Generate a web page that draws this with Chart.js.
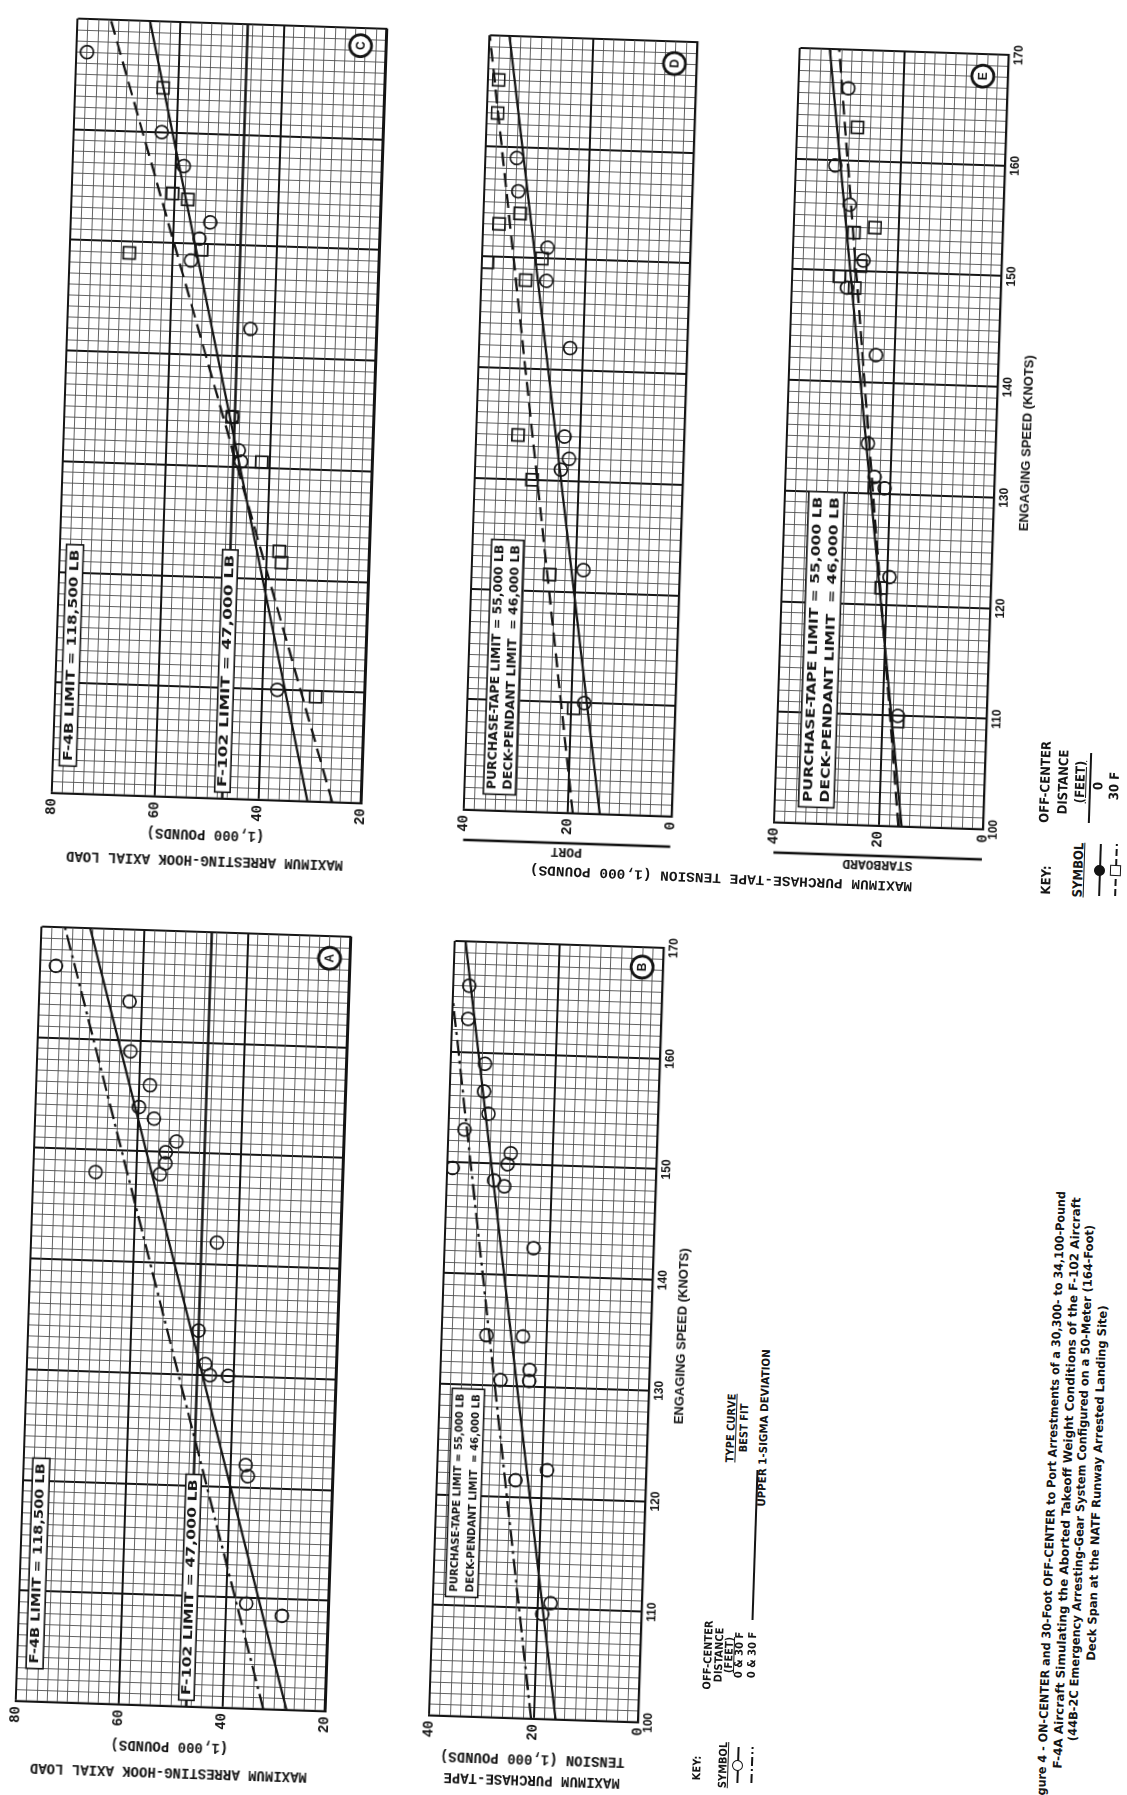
<!DOCTYPE html>
<html>
<head>
<meta charset="utf-8">
<title>Figure 4</title>
<script src="https://cdn.jsdelivr.net/npm/chart.js@4.4.1/dist/chart.umd.min.js"></script>
<style>
  html, body { margin: 0; padding: 0; background: #fff; }
  body { position: relative; width: 1127px; height: 1795px; overflow: hidden; }
  .panel { position: absolute; }
  .panel canvas { display: block; }
  .t { position: absolute; white-space: nowrap; color: #161616; line-height: 1; font-weight: bold; }
  .sym { position: absolute; height: 12px; }
</style>
</head>
<body>
<script>
// ---- data: engaging speed (knots) vs load / tension (1,000 lb) ----

// A - hook axial load, 0 & 30 ft off-center
const aSpeed = [166.5, 163.5, 159, 156, 154, 153, 151, 150, 149, 148, 148, 142, 134, 131, 130, 130, 122, 121, 109.5, 108.5];
const aLoad  = [77, 62.5, 62, 58, 60, 57, 52.5, 54.5, 54.5, 55.5, 68, 44, 47, 45.5, 44.5, 41, 37, 36.5, 36, 29];
const fitSpeed   = [100, 170];
const aFitLoad   = [27.5, 70.6];   // best fit
const aSigmaLoad = [32, 75.5];     // upper 1-sigma

// B - purchase-tape tension, 0 & 30 ft
const bSpeed   = [166, 163, 159, 156.5, 154.5, 153, 151, 150, 149.5, 148.5, 148, 142.5, 134.5, 134.5, 131.5, 130.5, 130.5, 121.5, 122.5, 110.5, 109.5];
const bTension = [37, 37, 33.5, 33.5, 32.5, 37, 28, 28.5, 39, 31, 29, 23, 31.5, 24.5, 23, 23, 28.5, 25, 19, 17.5, 19];
const bFitTension   = [15.8, 38];
const bSigmaSpeed   = [100, 164.5];
const bSigmaTension = [20.5, 40];

// C - hook axial load, 0 ft (circles) / 30 ft (squares)
const cSpeed0  = [167, 160, 157, 152, 150.5, 148.5, 142.5, 134.5, 131.5, 130.5, 110];
const cLoad0   = [78, 63, 58.5, 53, 55, 56.5, 44.5, 47.5, 46, 45.5, 37];
const cSpeed30 = [164, 154.5, 154, 149.5, 149, 134.5, 130.5, 122.5, 121.5, 109.5];
const cLoad30  = [63, 60.5, 57.5, 54.5, 68.5, 47.5, 41.5, 37.5, 37, 29.5];
const cFit0  = [30.4, 66];
const cFit30 = [25.6, 73.6];

// D - port purchase-tape tension
const dSpeed0  = [159, 156, 151, 148, 142, 134, 131, 132, 122, 110];
const dTen0    = [34, 33.5, 27.5, 27.5, 22.5, 23, 23.5, 22, 18.5, 17.5];
const dSpeed30 = [166, 163, 153, 154, 149.5, 150, 148, 134, 130, 121.5, 109.5];
const dTen30   = [38, 38, 37, 33, 39, 28.5, 31.5, 32, 29, 25, 19.5];
const dFit0  = [13.8, 36.2];
const dFit30 = [19, 40];

// E - starboard purchase-tape tension
const eSpeed0  = [166.5, 159.5, 156, 151, 148.5, 142.5, 134.5, 131.5, 130.5, 122.5, 110];
const eTen0    = [30.5, 32.5, 29.5, 26.5, 29.5, 23.5, 24.5, 23, 21, 19.5, 17];
const eSpeed30 = [163, 154, 153.5, 150.5, 149.5, 148.5, 130.5, 121.5, 109.5];
const eTen30   = [28.5, 24.5, 28.5, 27, 31, 28, 23, 21, 17];
const eFit0  = [15.6, 34.3];
const eFit30 = [16.2, 32.5];

// ---- drawing ----
const mono   = '"Liberation Mono", "DejaVu Sans Mono", monospace';
const narrow = '"Liberation Sans Narrow", "DejaVu Sans Condensed", "Liberation Sans", sans-serif';
const sans   = '"Liberation Sans", "DejaVu Sans", sans-serif';
const INK = '#141414', MINOR = '#505050';
const TILT = -88.1;   // page is turned sideways and a little skewed

Chart.defaults.color = INK;
Chart.defaults.font.family = sans;
Chart.defaults.animation = false;

const pts = (xs, ys) => xs.map((x, i) => ({x, y: ys[i]}));

function marks(data, style, r) {
  return { type: 'scatter', data, pointStyle: style, pointRadius: r, pointBorderWidth: 1.7,
           pointBorderColor: INK, pointBackgroundColor: 'rgba(0,0,0,0)', clip: 0 };
}
function fit(data, dash) {
  return { type: 'line', data, showLine: true, borderColor: INK, borderWidth: 2.3,
           borderDash: dash || [], pointRadius: 0, clip: 0, tension: 0 };
}

function fitText(ctx, t, cx, cy, w) {
  const m = ctx.measureText(t).width;
  ctx.save();
  ctx.translate(cx, cy);
  ctx.scale(w / m, 1);
  ctx.fillText(t, 0, 0);
  ctx.restore();
}

function makeDecor(o) {
  return {
    id: 'decor',
    beforeDatasetsDraw(chart) {
      const {ctx, chartArea: ca, scales: {y}} = chart;
      ctx.save();
      (o.limits || []).forEach(v => {
        const py = y.getPixelForValue(v);
        ctx.strokeStyle = INK; ctx.lineWidth = 2.4;
        ctx.beginPath(); ctx.moveTo(ca.left, py); ctx.lineTo(ca.right, py); ctx.stroke();
      });
      ctx.restore();
    },
    afterDatasetsDraw(chart) {
      const {ctx, chartArea: ca, scales: {x, y}} = chart;
      ctx.save();
      (o.boxes || []).forEach(b => {
        const x0 = x.getPixelForValue(b.s[0]), x1 = x.getPixelForValue(b.s[1]);
        const y0 = y.getPixelForValue(b.v[1]), y1 = y.getPixelForValue(b.v[0]);
        ctx.fillStyle = '#fff';
        ctx.fillRect(x0, y0, x1 - x0, y1 - y0);
        ctx.strokeStyle = INK; ctx.lineWidth = 1.6;
        ctx.strokeRect(x0, y0, x1 - x0, y1 - y0);
        ctx.fillStyle = INK;
        ctx.font = 'bold ' + b.size + 'px ' + narrow;
        ctx.textAlign = 'center'; ctx.textBaseline = 'middle';
        const lh = (y1 - y0) / b.text.length;
        b.text.forEach((t, i) => fitText(ctx, t, (x0 + x1) / 2, y0 + lh * (i + 0.5) + 0.5, x1 - x0 - 10));
      });
      if (o.letter) {
        const px = x.getPixelForValue(o.letter.s), py = y.getPixelForValue(o.letter.v);
        ctx.beginPath(); ctx.arc(px, py, 11, 0, Math.PI * 2);
        ctx.fillStyle = '#fff'; ctx.fill();
        ctx.strokeStyle = INK; ctx.lineWidth = 2.8; ctx.stroke();
        ctx.fillStyle = INK; ctx.font = 'bold 12px ' + sans;
        ctx.textAlign = 'center'; ctx.textBaseline = 'middle';
        ctx.fillText(o.letter.t, px, py + 1);
      }
      if (o.rule) {
        ctx.strokeStyle = INK; ctx.lineWidth = 2.6;
        ctx.beginPath();
        ctx.moveTo(ca.left - o.rule, ca.top); ctx.lineTo(ca.left - o.rule, ca.bottom);
        ctx.stroke();
      }
      ctx.restore();
    }
  };
}

function panel(p) {
  const W = p.yw + 775 + 16, H = 12 + p.plotH + p.xh + p.pb;
  const wrap = document.createElement('div');
  wrap.className = 'panel';
  const cv = document.createElement('canvas');
  cv.width = W; cv.height = H;
  cv.style.width = W + 'px'; cv.style.height = H + 'px';
  wrap.appendChild(cv);
  document.body.appendChild(wrap);

  const xMajor = c => c.tick && c.tick.value % 10 === 0;
  const yMajor = c => c.tick && c.tick.value % 20 === 0;

  const chart = new Chart(cv, {
    type: 'scatter',
    data: { datasets: p.datasets },
    options: {
      responsive: false, devicePixelRatio: 1, events: [],
      layout: { padding: { left: 0, right: 16, top: 12, bottom: p.pb } },
      plugins: { legend: { display: false }, tooltip: { enabled: false } },
      scales: {
        x: {
          type: 'linear', min: 100, max: 170,
          afterFit: s => { s.height = p.xh; },
          ticks: { stepSize: 1, maxTicksLimit: 200, autoSkip: false, maxRotation: 0, minRotation: 0,
                   display: p.speedLabels, padding: 3,
                   font: { family: sans, weight: 'bold', size: 12 },
                   callback: v => v % 10 === 0 ? String(v) : '' },
          grid: { drawTicks: false, color: c => xMajor(c) ? INK : MINOR, lineWidth: c => xMajor(c) ? 2 : 0.9 },
          border: { display: true, color: INK, width: 2.2 },
          title: { display: p.speedLabels, text: 'ENGAGING SPEED (KNOTS)',
                   font: { family: sans, weight: 'bold', size: 13 }, padding: { top: 0, bottom: 3 } }
        },
        y: {
          type: 'linear', min: p.vmin, max: p.vmax,
          afterFit: s => { s.width = p.yw; },
          ticks: { stepSize: 2, maxTicksLimit: 200, autoSkip: false, padding: 5,
                   font: { family: mono, weight: 'bold', size: 14 },
                   callback: v => v % 20 === 0 ? String(v) : '' },
          grid: { drawTicks: false, color: c => yMajor(c) ? INK : MINOR, lineWidth: c => yMajor(c) ? 2 : 0.9 },
          border: { display: true, color: INK, width: 2.2 },
          title: { display: true, text: p.yTitle,
                   font: { family: mono, weight: 'bold', size: p.tSize, lineHeight: p.tLH },
                   padding: { top: p.tPad, bottom: 0 } }
        }
      }
    },
    plugins: [makeDecor(p.decor)]
  });

  const ca = chart.chartArea;
  const cx = (ca.left + ca.right) / 2, cy = (ca.top + ca.bottom) / 2;
  wrap.style.left = (p.cx - cx) + 'px';
  wrap.style.top = (p.cy - cy) + 'px';
  wrap.style.transformOrigin = cx + 'px ' + cy + 'px';
  wrap.style.transform = 'rotate(' + TILT + 'deg)';
}

const dashDot = [16, 5, 3, 5];
const dash = [14, 7];
const tapeText = ['PURCHASE-TAPE LIMIT = 55,000 LB', 'DECK-PENDANT LIMIT  = 46,000 LB'];

// A
panel({
  cx: 183, cy: 1319, yw: 80, xh: 2, pb: 10, plotH: 312, vmin: 20, vmax: 80,
  yTitle: ['MAXIMUM ARRESTING-HOOK AXIAL LOAD', '(1,000 POUNDS)'], tSize: 14, tLH: 26 / 14, tPad: 1,
  speedLabels: false,
  datasets: [
    marks(pts(aSpeed, aLoad), 'circle', 6.5),
    fit(pts(fitSpeed, aFitLoad)),
    fit(pts(fitSpeed, aSigmaLoad), dashDot)
  ],
  decor: {
    limits: [47],
    boxes: [
      { s: [103, 122], v: [75, 78.3], text: ['F-4B LIMIT = 118,500 LB'], size: 12 },
      { s: [100.6, 121], v: [45.5, 48.5], text: ['F-102 LIMIT = 47,000 LB'], size: 12 }
    ],
    letter: { s: 168, v: 24, t: 'A' }
  }
});

// B
panel({
  cx: 546, cy: 1332, yw: 80, xh: 42, pb: 2, plotH: 210, vmin: 0, vmax: 40,
  yTitle: ['MAXIMUM PURCHASE-TAPE', 'TENSION (1,000 POUNDS)'], tSize: 14, tLH: 21 / 14, tPad: 8.5,
  speedLabels: true,
  datasets: [
    marks(pts(bSpeed, bTension), 'circle', 6.5),
    fit(pts(fitSpeed, bFitTension)),
    fit(pts(bSigmaSpeed, bSigmaTension), dashDot)
  ],
  decor: {
    boxes: [{ s: [110.8, 129.6], v: [31.5, 37.7], text: tapeText, size: 11 }],
    letter: { s: 168.2, v: 4, t: 'B' }
  }
});

// C
panel({
  cx: 219, cy: 411, yw: 80, xh: 2, pb: 10, plotH: 312, vmin: 20, vmax: 80,
  yTitle: ['MAXIMUM ARRESTING-HOOK AXIAL LOAD', '(1,000 POUNDS)'], tSize: 14, tLH: 26 / 14, tPad: 5,
  speedLabels: false,
  datasets: [
    marks(pts(cSpeed0, cLoad0), 'circle', 6.5),
    marks(pts(cSpeed30, cLoad30), 'rect', 8.5),
    fit(pts(fitSpeed, cFit0)),
    fit(pts(fitSpeed, cFit30), dash)
  ],
  decor: {
    limits: [47],
    boxes: [
      { s: [102.5, 122.5], v: [75.5, 78.8], text: ['F-4B LIMIT = 118,500 LB'], size: 12 },
      { s: [100.6, 122.5], v: [45.5, 48.5], text: ['F-102 LIMIT = 47,000 LB'], size: 12 }
    ],
    letter: { s: 168.4, v: 25, t: 'C' }
  }
});

// D
panel({
  cx: 580, cy: 426, yw: 45, xh: 2, pb: 10, plotH: 210, vmin: 0, vmax: 40,
  yTitle: 'PORT', tSize: 13, tLH: 1, tPad: 0,
  speedLabels: false,
  datasets: [
    marks(pts(dSpeed0, dTen0), 'circle', 6.5),
    marks(pts(dSpeed30, dTen30), 'rect', 8.5),
    fit(pts(fitSpeed, dFit0)),
    fit(pts(fitSpeed, dFit30), dash)
  ],
  decor: {
    boxes: [{ s: [101.5, 124.5], v: [30.2, 36.4], text: tapeText, size: 12 }],
    letter: { s: 168, v: 4.2, t: 'D' },
    rule: 30
  }
});

// E
panel({
  cx: 891, cy: 439, yw: 45, xh: 42, pb: 2, plotH: 210, vmin: 0, vmax: 40,
  yTitle: 'STARBOARD', tSize: 13, tLH: 1, tPad: 0,
  speedLabels: true,
  datasets: [
    marks(pts(eSpeed0, eTen0), 'circle', 6.5),
    marks(pts(eSpeed30, eTen30), 'rect', 8.5),
    fit(pts(fitSpeed, eFit0)),
    fit(pts(fitSpeed, eFit30), dash)
  ],
  decor: {
    boxes: [{ s: [101.5, 130], v: [28.7, 35.5], text: tapeText, size: 13 }],
    letter: { s: 168, v: 4.8, t: 'E' },
    rule: 30
  }
});

// ---- loose text: shared axis title, keys, caption ----
function addText(it) {
  const d = document.createElement('div');
  d.className = 't';
  d.textContent = it.t;
  d.style.font = 'bold ' + it.s + 'px ' + (it.f || narrow);
  if (it.u) d.style.textDecoration = 'underline';
  document.body.appendChild(d);
  const sx = it.len ? it.len / d.offsetWidth : 1;
  d.style.left = it.x + 'px';
  d.style.top = it.y + 'px';
  d.style.transform = 'translate(-50%,-50%) rotate(' + (it.rot || TILT) + 'deg) scaleX(' + sx + ')';
}

function addRule(x, y, len) {
  const d = document.createElement('div');
  d.style.cssText = 'position:absolute;height:2px;background:' + INK + ';width:' + len + 'px;left:' + x + 'px;top:' + y + 'px;' +
    'transform:translate(-50%,-50%) rotate(' + TILT + 'deg)';
  document.body.appendChild(d);
}

function addSymbol(x, y, len, kind) {
  const d = document.createElement('div');
  d.className = 'sym';
  d.style.width = len + 'px';
  d.style.left = x + 'px';
  d.style.top = y + 'px';
  d.style.transform = 'translate(-50%,-50%) rotate(' + TILT + 'deg)';
  const lineBg = kind === 'dashdot'
    ? 'repeating-linear-gradient(90deg,' + INK + ' 0 9px,transparent 9px 12px,' + INK + ' 12px 14px,transparent 14px 17px)'
    : kind === 'square'
      ? 'repeating-linear-gradient(90deg,' + INK + ' 0 7px,transparent 7px 10px)'
      : INK;
  let html = '<div style="position:absolute;left:0;right:0;top:5px;height:2px;background:' + lineBg + '"></div>';
  if (kind === 'circle' || kind === 'dot') {
    html += '<div style="position:absolute;left:50%;top:50%;width:9px;height:9px;margin:-6px 0 0 -6px;border:1.8px solid ' + INK +
      ';border-radius:50%;background:' + (kind === 'dot' ? INK : '#fff') + '"></div>';
  } else if (kind === 'square') {
    html += '<div style="position:absolute;left:50%;top:50%;width:9px;height:9px;margin:-6px 0 0 -6px;border:1.8px solid ' + INK +
      ';background:#fff"></div>';
  }
  d.innerHTML = html;
  document.body.appendChild(d);
}

const K1 = 11, K2 = 13;
[
  { x: 721, y: 878, t: 'MAXIMUM PURCHASE-TAPE TENSION (1,000 POUNDS)', f: mono, s: 14, len: 383, rot: 182.5 },

  { x: 697, y: 1768, t: 'KEY:', s: K1 },
  { x: 723, y: 1765, t: 'SYMBOL', s: K1, u: 1 },
  { x: 708, y: 1655, t: 'OFF-CENTER', s: K1 },
  { x: 719, y: 1655, t: 'DISTANCE', s: K1 },
  { x: 729, y: 1655, t: '(FEET)', s: K1, u: 1 },
  { x: 739, y: 1655, t: '0 & 30 F', s: K1 },
  { x: 752, y: 1655, t: '0 & 30 F', s: K1 },
  { x: 731, y: 1428, t: 'TYPE CURVE', s: K1, u: 1 },
  { x: 744, y: 1428, t: 'BEST FIT', s: K1 },
  { x: 764, y: 1428, t: 'UPPER 1-SIGMA DEVIATION', s: K1, len: 158 },

  { x: 1046, y: 880, t: 'KEY:', s: K2 },
  { x: 1078, y: 870, t: 'SYMBOL', s: K2, u: 1 },
  { x: 1045, y: 782, t: 'OFF-CENTER', s: K2 },
  { x: 1063, y: 782, t: 'DISTANCE', s: K2 },
  { x: 1080, y: 782, t: '(FEET)', s: K2, u: 1 },
  { x: 1098, y: 786, t: '0', s: K2 },
  { x: 1114, y: 786, t: '30 F', s: K2 },

  { x: 1051, y: 1499, t: 'Figure 4 - ON-CENTER and 30-Foot OFF-CENTER to Port Arrestments of a 30,300- to 34,100-Pound', s: 12, len: 616 },
  { x: 1067, y: 1483, t: 'F-4A Aircraft Simulating the Aborted Takeoff Weight Conditions of the F-102 Aircraft', s: 12, len: 572 },
  { x: 1081, y: 1483, t: '(44B-2C Emergency Arresting-Gear System Configured on a 50-Meter (164-Foot)', s: 12, len: 516 },
  { x: 1097, y: 1483, t: 'Deck Span at the NATF Runway Arrested Landing Site)', s: 12, len: 355 }
].forEach(addText);

addRule(755, 1545, 150);
addRule(1090, 788, 70);
addSymbol(738, 1765, 36, 'circle');
addSymbol(752, 1765, 36, 'dashdot');
addSymbol(1100, 870, 52, 'dot');
addSymbol(1116, 870, 52, 'square');
</script>
</body>
</html>
